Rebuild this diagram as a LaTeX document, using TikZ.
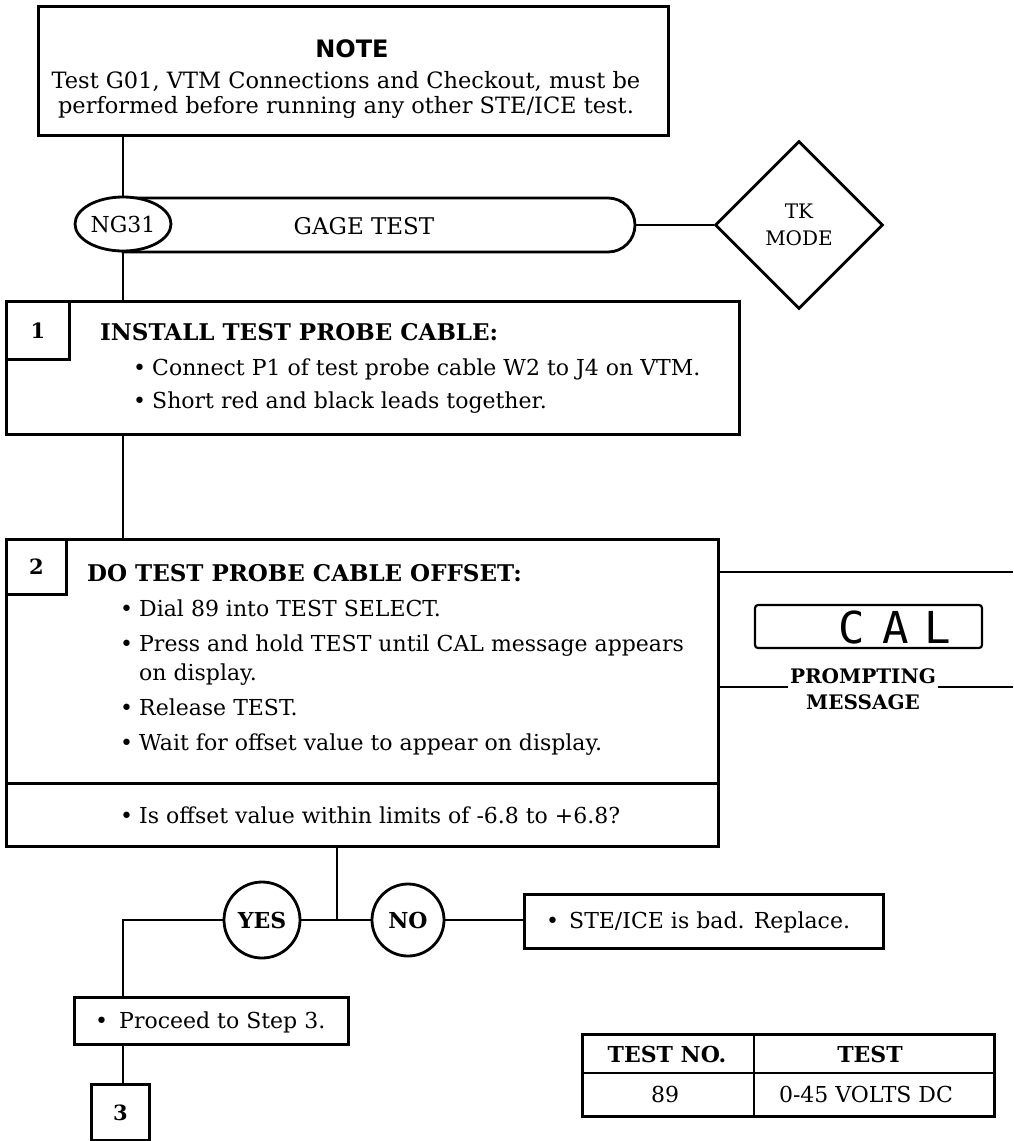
\documentclass[tikz,border=0pt]{standalone}
\usepackage{fontspec}
\setmainfont{DejaVu Serif}
\newfontfamily\headsans{DejaVu Sans}
\newfontfamily\lcdfont{DejaVu Sans Mono}
\usetikzlibrary{shapes.geometric,shapes.misc}
\newcommand\bul{\makebox[19pt][l]{\textbullet}}
\begin{document}
\begin{tikzpicture}[x=1pt,y=-1pt,
  frame/.style={draw, line width=3pt, inner sep=0pt, anchor=north west},
  conn/.style={line width=2.6pt},
  txt/.style={inner sep=0pt, font=\fontsize{22}{24}\selectfont},
  btxt/.style={inner sep=0pt, font=\fontsize{23}{25}\selectfont\bfseries}]
\fill[white] (0,0) rectangle (1013,1141);
\useasboundingbox (0,0) rectangle (1013,1141);

% NOTE
\node[frame, minimum width=630pt, minimum height=129pt] (note) at (37,5) {};
\node[inner sep=0pt, font=\headsans\bfseries\fontsize{24}{24}\selectfont] (notet) at (352,49) {NOTE};
\node[txt, align=center, font=\fontsize{22.5}{24.5}\selectfont] (notex) at (346,95) {Test G01, VTM Connections and Checkout, must be\\performed before running any other STE/ICE test.};

% title pill
\node[rounded rectangle, rounded rectangle left arc=none, draw, line width=2.8pt, minimum width=512pt, minimum height=54pt, inner sep=0pt] (pill) at (379,225) {};
\node[txt, ellipse, draw, fill=white, line width=2.8pt, minimum width=96pt, minimum height=54pt] (ng) at (123,224) {NG31};
\node[txt, font=\fontsize{23}{25}\selectfont] (gage) at (364,226) {GAGE TEST};
\node[diamond, draw, line width=2.8pt, minimum width=168pt, minimum height=168pt, inner sep=0pt, align=center, font=\fontsize{20}{27}\selectfont] (tk) at (799,225) {TK\\MODE};
\draw[conn] (ng.north |- note.south) -- (ng.north);
\draw[conn] (pill.east) -- (tk.west);

% step 1
\node[frame, minimum width=733pt, minimum height=133pt] (s1) at (5,300) {};
\node[frame, minimum width=63pt, minimum height=58pt] (n1) at (5,300) {};
\node[btxt, font=\fontsize{21}{21}\selectfont\bfseries] (n1t) at (n1.center) {1};
\draw[conn] (ng.south) -- (ng.south |- s1.north);
\node[btxt, anchor=base west] (s1h) at (100,340) {INSTALL TEST PROBE CABLE:};
\node[txt, anchor=base west] (s1a) at (133,375) {\bul Connect P1 of test probe cable W2 to J4 on VTM.};
\node[txt, anchor=base west] (s1b) at (133,408) {\bul Short red and black leads together.};

% step 2
\node[frame, minimum width=712pt, minimum height=244pt] (s2) at (5,538) {};
\node[frame, minimum width=712pt, minimum height=63pt] (q) at (5,782) {};
\node[frame, minimum width=60pt, minimum height=55pt] (n2) at (5,538) {};
\node[btxt, font=\fontsize{21}{21}\selectfont\bfseries] (n2t) at (n2.center) {2};
\draw[conn] (s1.south -| ng.south) -- (s2.north -| ng.south);
\node[btxt, anchor=base west] (s2h) at (87,581) {DO TEST PROBE CABLE OFFSET:};
\node[txt, anchor=base west] (s2a) at (120,616) {\bul Dial 89 into TEST SELECT.};
\node[txt, anchor=base west] (s2b) at (120,651) {\bul Press and hold TEST until CAL message appears};
\node[txt, anchor=base west] (s2c) at (139,680) {on display.};
\node[txt, anchor=base west] (s2d) at (120,715) {\bul Release TEST.};
\node[txt, anchor=base west] (s2e) at (120,750) {\bul Wait for offset value to appear on display.};
\node[txt, anchor=base west] (qt) at (120,823) {\bul Is offset value within limits of -6.8 to +6.8?};

% prompting message
\coordinate (calR) at (1013,572);
\coordinate (pl) at (1013,687);
\draw[conn] (s2.east |- calR) -- (calR);
\node[draw, line width=2.2pt, rounded corners=3pt, minimum width=227pt, minimum height=43pt, inner sep=0pt] (lcd) at (868.5,626.5) {};
\node[inner sep=0pt, font=\lcdfont\fontsize{44}{44}\selectfont] (cal) at (895,627) {C\kern17pt A\kern16pt L};
\node[inner sep=0pt, font=\fontsize{20}{20}\selectfont\bfseries, anchor=base] (pr) at (863,683) {PROMPTING};
\node[inner sep=0pt, font=\fontsize{20}{20}\selectfont\bfseries, anchor=base] (msg) at (863,709) {MESSAGE};
\draw[conn] (s2.east |- pl) -- ([xshift=-2pt]pr.west |- pl);
\draw[conn] ([xshift=2pt]pr.east |- pl) -- (pl);

% decision
\coordinate (j) at (337,920);
\coordinate (vx) at (123,920);
\draw[conn] (q.south -| j) -- (j);
\node[btxt, circle, draw, line width=2.8pt, minimum size=76pt, font=\fontsize{22}{22}\selectfont\bfseries] (yes) at (262,920) {YES};
\node[btxt, circle, draw, line width=2.8pt, minimum size=72pt, font=\fontsize{22}{22}\selectfont\bfseries] (no) at (408,920) {NO};
\draw[conn] (yes.east) -- (no.west);
\node[frame, minimum width=359pt, minimum height=54pt] (ste) at (523,893) {};
\node[txt, anchor=base west] (stet) at (546,928) {\makebox[23pt][l]{\textbullet}STE/ICE is bad. Replace.};
\draw[conn] (no.east) -- (no.east -| ste.west);
\node[frame, minimum width=274pt, minimum height=47pt] (proc) at (73,996) {};
\node[txt, anchor=base west] (proct) at (95,1028) {\makebox[24pt][l]{\textbullet}Proceed to Step 3.};
\draw[conn] (yes.west) -- (vx) -- (vx |- proc.north);
\node[frame, minimum width=58pt, minimum height=56pt] (b3) at (90,1083) {};
\node[btxt, font=\fontsize{21}{21}\selectfont\bfseries] (b3t) at (b3.center) {3};
\draw[conn] (vx |- proc.south) -- (vx |- b3.north);

% table
\node[frame, minimum width=412pt, minimum height=82pt] (tbl) at (581,1033) {};
\draw[line width=2.6pt] (tbl.west |- 0,1073) -- (tbl.east |- 0,1073);
\draw[line width=2.6pt] (tbl.north -| 754,0) -- (tbl.south -| 754,0);
\node[btxt, font=\fontsize{22}{22}\selectfont\bfseries] (th1) at (667,1054) {TEST NO.};
\node[btxt, font=\fontsize{22}{22}\selectfont\bfseries] (th2) at (870,1054) {TEST};
\node[txt] (td1) at (665,1094) {89};
\node[txt] (td2) at (866,1094) {0-45 VOLTS DC};
\end{tikzpicture}
\end{document}
